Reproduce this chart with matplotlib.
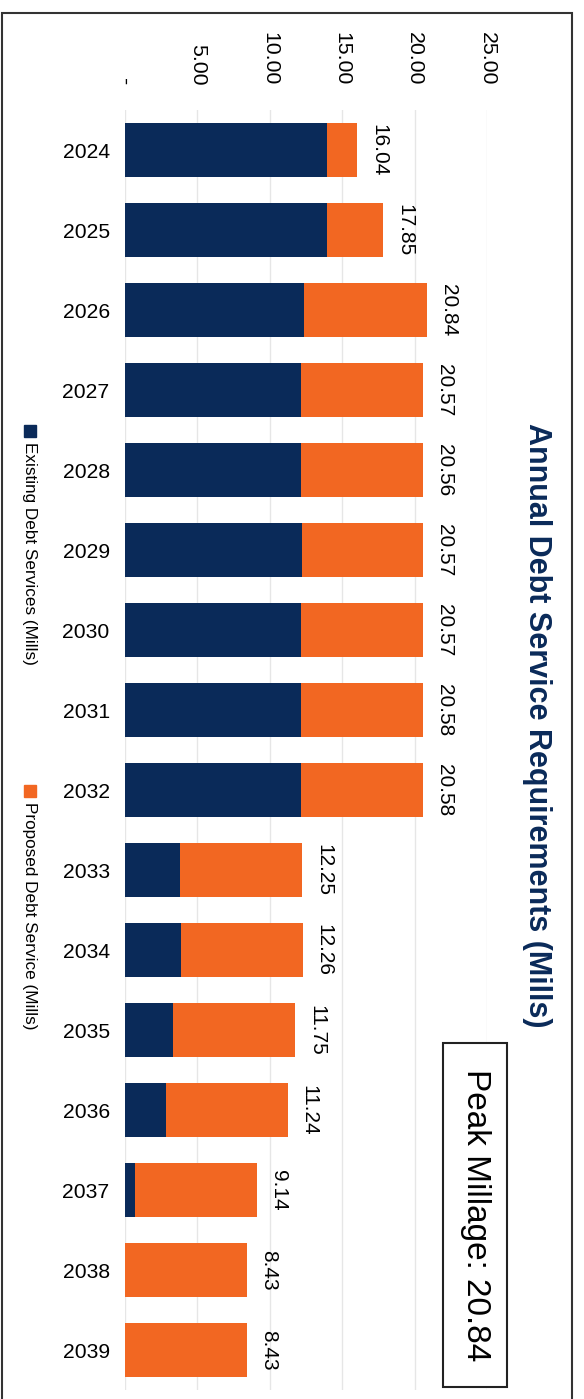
"""
plot.py - Annual debt service requirements (mills), stacked bars drawn
rotated a quarter turn clockwise, the way the page was scanned.
"""
import matplotlib
matplotlib.use("Agg")
import matplotlib.pyplot as plt
from matplotlib.patches import Rectangle
import numpy as np

# ---------------------------------------------------------------------------
# Data
# ---------------------------------------------------------------------------
YEARS = ["2024", "2025", "2026", "2027", "2028", "2029", "2030", "2031",
         "2032", "2033", "2034", "2035", "2036", "2037", "2038", "2039"]
TOTAL = [16.04, 17.85, 20.84, 20.57, 20.56, 20.57, 20.57, 20.58,
         20.58, 12.25, 12.26, 11.75, 11.24, 9.14, 8.43, 8.43]
EXISTING = [13.95, 13.95, 12.36, 12.15, 12.18, 12.22, 12.15, 12.15,
            12.15, 3.80, 3.85, 3.29, 2.83, 0.71, 0.0, 0.0]
TICKS = [0, 5, 10, 15, 20, 25]
TICK_LABELS = ["-", "5.00", "10.00", "15.00", "20.00", "25.00"]

TITLE = "Annual Debt Service Requirements (Mills)"
LEGEND = ["Existing Debt Services (Mills)", "Proposed Debt Service (Mills)"]
PEAK = "Peak Millage: 20.84"

NAVY = "#0a2a59"
ORANGE = "#f26722"

W, H = 584, 1399

plt.rcParams["font.family"] = ["Liberation Sans", "DejaVu Sans"]


def fx(x):
    return x / W


def fy(y):
    return 1 - y / H


proposed = np.array(TOTAL) - np.array(EXISTING)
idx = np.arange(len(YEARS))

fig = plt.figure(figsize=(W / 100, H / 100), dpi=100)
ax = fig.add_axes([fx(125), fy(1390), (487 - 125) / W, 1280 / H])

ax.barh(idx, EXISTING, height=0.67, color=NAVY, zorder=2)
ax.barh(idx, proposed, left=EXISTING, height=0.67, color=ORANGE, zorder=2)

for i, t in enumerate(TOTAL):
    ax.annotate(f"{t:.2f}", xy=(t, i), xytext=(8.5, 0), textcoords="offset points",
                ha="left", va="center", rotation=-90, fontsize=15)

ax.set_xlim(0, 25)
ax.set_ylim(15.5, -0.5)
ax.set_xticks(TICKS, labels=TICK_LABELS)
ax.set_yticks(idx, labels=YEARS)
ax.xaxis.set_ticks_position("top")
ax.tick_params(axis="x", length=0, pad=18, labelsize=15.3, labelrotation=-90)
ax.tick_params(axis="y", length=0, pad=11, labelsize=15.2)
ax.xaxis.grid(True, color="#e6e6e6", linewidth=1)
ax.set_axisbelow(True)
for s in ax.spines.values():
    s.set_visible(False)

# title, reading top to bottom on the right
fig.text(fx(537), fy(725), TITLE, rotation=-90, ha="center", va="center",
         fontsize=22, fontweight="bold", color=NAVY)

# legend down the left edge
for (y0, label, colour) in [(425, LEGEND[0], NAVY), (785, LEGEND[1], ORANGE)]:
    fig.add_artist(Rectangle((fx(24), fy(y0 + 12)), 12 / W, 12 / H,
                             transform=fig.transFigure, color=colour))
    fig.text(fx(29), fy(y0 + 17), label, rotation=-90, ha="center", va="top",
             fontsize=12.3)

# peak millage box
fig.add_artist(Rectangle((fx(443), fy(1387)), 64 / W, 344 / H,
                         transform=fig.transFigure, facecolor="white",
                         edgecolor="#222222", linewidth=1.5))
fig.text(fx(475), fy(1215), PEAK, rotation=-90, ha="center", va="center",
         fontsize=24)

# page frame
fig.add_artist(Rectangle((fx(2), -0.01), (572 - 2) / W, fy(13) + 0.01,
                         transform=fig.transFigure, fill=False,
                         edgecolor="#333333", linewidth=1.5))

fig.savefig("out.png", dpi=100)
